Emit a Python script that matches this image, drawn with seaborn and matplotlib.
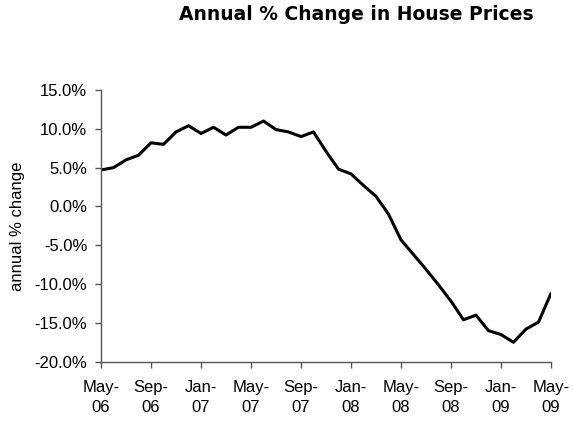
import seaborn as sns
import matplotlib.pyplot as plt
import matplotlib.ticker as mticker
import pandas as pd

# monthly annual % change, May-06 .. May-09
months = pd.date_range('2006-05-01', '2009-05-01', freq='MS')
change = [4.7, 5.0, 6.0, 6.6, 8.2, 8.0, 9.6, 10.4, 9.4, 10.2, 9.2, 10.2, 10.2,
          11.0, 9.9, 9.6, 9.0, 9.6, 7.1, 4.8, 4.2, 2.7, 1.3, -1.0, -4.3, -6.2,
          -8.1, -10.1, -12.2, -14.6, -14.0, -16.0, -16.5, -17.5, -15.8, -14.9, -11.2]
tick_labels = ['May-\n06', 'Sep-\n06', 'Jan-\n07', 'May-\n07', 'Sep-\n07',
               'Jan-\n08', 'May-\n08', 'Sep-\n08', 'Jan-\n09', 'May-\n09']

df = pd.DataFrame({'month': range(len(months)), 'change': change})

sns.set_style('ticks')
plt.rcParams['font.family'] = ['Liberation Sans', 'DejaVu Sans']
plt.rcParams['text.color'] = 'black'
plt.rcParams['xtick.labelcolor'] = 'black'
plt.rcParams['ytick.labelcolor'] = 'black'

fig = plt.figure(figsize=(5.73, 4.23), dpi=100)
ax = fig.add_axes([0.1763, 0.1449, 0.7853, 0.6423])

sns.lineplot(data=df, x='month', y='change', color='black', linewidth=2.2, ax=ax)

ax.set_xlim(0, 36)
ax.set_ylim(-20, 15)
ax.set_xticks(range(0, 37, 4))
ax.set_xticklabels(tick_labels, linespacing=1.4)
ax.set_yticks(range(-20, 16, 5))
ax.yaxis.set_major_formatter(mticker.FuncFormatter(lambda v, p: f'{v:.1f}%'))
ax.tick_params(axis='both', labelsize=12, length=4, width=1, color='#555555')
ax.tick_params(axis='x', pad=9)
ax.tick_params(axis='y', pad=6)
ax.set_xlabel('')
ax.set_ylabel('annual % change', fontsize=12, labelpad=7, color='black')
for s in ['top', 'right']:
    ax.spines[s].set_visible(False)
for s in ['left', 'bottom']:
    ax.spines[s].set_color('#555555')
    ax.spines[s].set_linewidth(1)

fig.text(0.621, 0.965, 'Annual % Change in House Prices', ha='center', va='center',
         fontsize=13.5, fontweight='bold', family='DejaVu Sans', color='black')

fig.savefig('out.png', dpi=100)
